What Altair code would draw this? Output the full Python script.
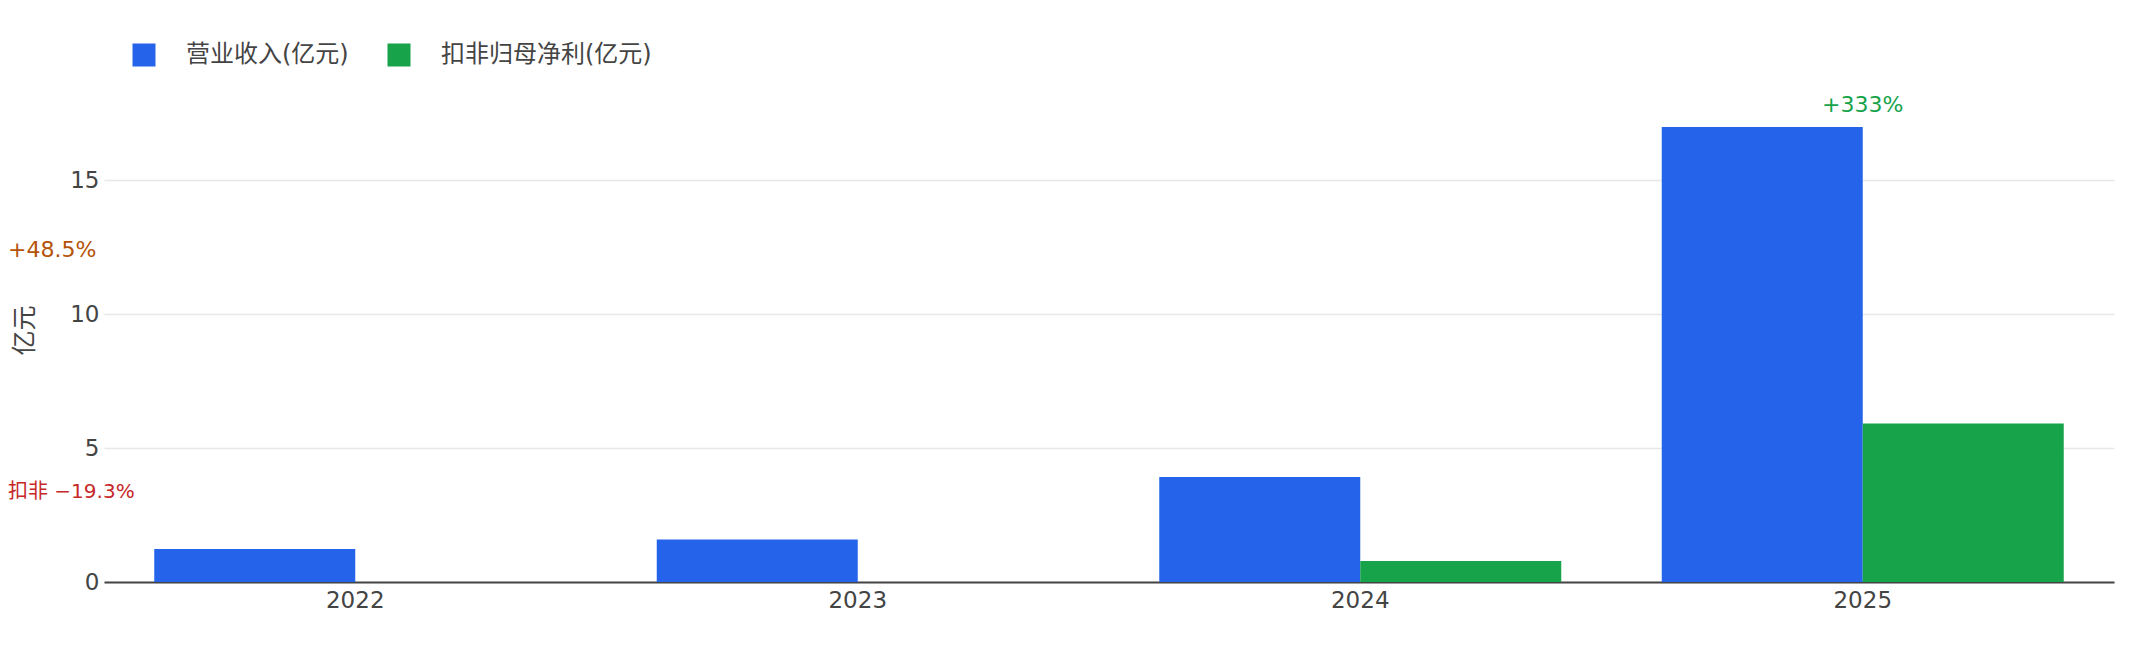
import altair as alt
import pandas as pd

years = ["2022", "2023", "2024", "2025"]
revenue = [1.23, 1.59, 3.92, 16.98]
profit = [None, None, 0.78, 5.91]
series = ["营业收入(亿元)", "扣非归母净利(亿元)"]
colors = ["#2563EB", "#16A34A"]

top_note_year = "2025"
top_note_text = "+333%"
left_notes = ["+48.5%", "扣非 −19.3%"]
left_note_colors = ["#B45309", "#C62828"]

rows = []
for i, y in enumerate(years):
    rows.append({"year": y, "series": series[0], "value": revenue[i]})
    rows.append({"year": y, "series": series[1], "value": profit[i]})
df = pd.DataFrame(rows)

ymax = max(revenue) * 1.0526

FONT = "DejaVu Sans, Noto Sans CJK SC, sans-serif"
TXT = "#444444"

x_enc = alt.X("year:N", sort=years, title=None,
              scale=alt.Scale(paddingInner=0.2, paddingOuter=0.1),
              axis=alt.Axis(labelAngle=0, labelFontSize=23, labelColor=TXT,
                            labelFont=FONT, ticks=False, domainColor=TXT,
                            domainWidth=2, labelPadding=7, grid=False))
y_scale = alt.Scale(domain=[0, ymax], nice=False, zero=True)

bars = alt.Chart(df).mark_bar().encode(
    x=x_enc,
    xOffset=alt.XOffset("series:N", sort=series,
                        scale=alt.Scale(paddingInner=0, paddingOuter=0)),
    y=alt.Y("value:Q", scale=y_scale, title="亿元",
            axis=alt.Axis(values=[0, 5, 10, 15], labelFontSize=23, labelColor=TXT,
                          labelFont=FONT, ticks=False, domain=False,
                          gridColor="#E8E8E8", gridWidth=1.5, labelPadding=5,
                          titleFontSize=25, titleColor=TXT, titleFont=FONT,
                          titleFontWeight="normal", titleX=-80, titleY=227,
                          titleBaseline="middle", titleAlign="center")),
    color=alt.Color("series:N", sort=series,
                    scale=alt.Scale(domain=series, range=colors),
                    legend=alt.Legend(title=None, orient="none", legendX=28, legendY=-60,
                                      direction="horizontal", symbolType="square",
                                      symbolSize=529, symbolStrokeWidth=0,
                                      labelFontSize=24, labelColor=TXT, labelFont=FONT,
                                      labelLimit=500, labelOffset=30, columnPadding=38,
                                      padding=0)),
)

top_df = pd.DataFrame({"year": [top_note_year],
                       "value": [revenue[years.index(top_note_year)]],
                       "text": [top_note_text]})
top_text = alt.Chart(top_df).mark_text(
    fontSize=22, font=FONT, color="#16A34A", dy=-22, baseline="middle", align="center"
).encode(
    x=alt.X("year:N", sort=years),
    y=alt.Y("value:Q", scale=y_scale),
    text="text:N",
)

note1 = alt.Chart(pd.DataFrame({"t": [left_notes[0]]})).mark_text(
    fontSize=22, font=FONT, color=left_note_colors[0], align="left", baseline="middle"
).encode(x=alt.value(-96), y=alt.value(147), text="t:N")

note2 = alt.Chart(pd.DataFrame({"t": [left_notes[1]]})).mark_text(
    fontSize=20, font=FONT, color=left_note_colors[1], align="left", baseline="middle"
).encode(x=alt.value(-96), y=alt.value(389), text="t:N")

chart = alt.layer(bars, top_text, note1, note2).properties(
    width=2010, height=479,
    autosize=alt.AutoSizeParams(type="none"),
    padding={"left": 96, "top": 95, "right": 34, "bottom": 72},
    background="white",
).configure_view(stroke=None).configure_axis(labelFont=FONT, titleFont=FONT)

chart.save("out.html", embed_options={"renderer": "svg", "actions": False})
